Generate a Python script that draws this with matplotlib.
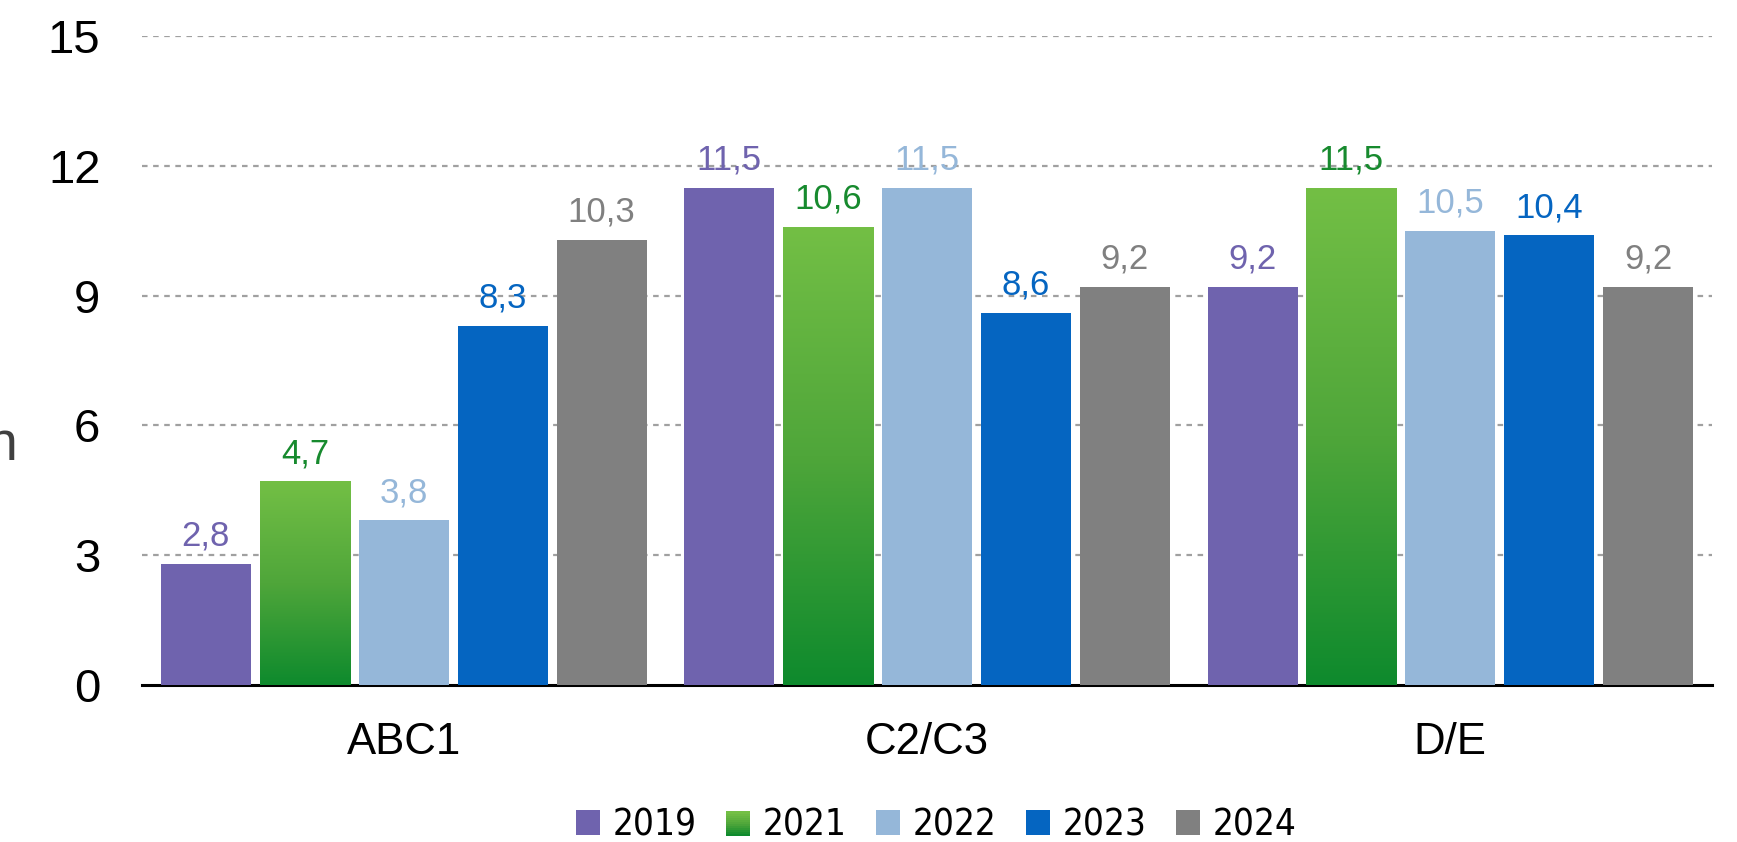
import matplotlib.pyplot as plt
import numpy as np
from matplotlib.colors import LinearSegmentedColormap
from matplotlib.patches import Rectangle
from matplotlib.legend_handler import HandlerBase

categories = ['ABC1', 'C2/C3', 'D/E']
years = ['2019', '2021', '2022', '2023', '2024']
v2019 = [2.8, 11.5, 9.2]
v2021 = [4.7, 10.6, 11.5]
v2022 = [3.8, 11.5, 10.5]
v2023 = [8.3, 8.6, 10.4]
v2024 = [10.3, 9.2, 9.2]
series = [v2019, v2021, v2022, v2023, v2024]

bar_colors = ['#6F63AE', None, '#95B7D9', '#0565C1', '#808080']
label_colors = ['#6F63AE', '#178A2E', '#95B7D9', '#0565C1', '#808080']
green_cmap = LinearSegmentedColormap.from_list('g', ['#0E8A2D', '#4FA63A', '#73BF45'])

plt.rcParams['font.family'] = ['Liberation Sans', 'DejaVu Sans']

fig = plt.figure(figsize=(17.37, 8.42), dpi=100)
ax = fig.add_axes([0.0818, 0.187, 0.9038, 0.7697])

x = np.arange(len(categories))
width = 0.172
step = 0.189
grad = np.linspace(0, 1, 256).reshape(-1, 1)

for i, vals in enumerate(series):
    pos = x + (i - 2) * step
    if bar_colors[i] is None:
        bars = ax.bar(pos, vals, width, facecolor='none', edgecolor='none', zorder=3)
        for b in bars:
            im = ax.imshow(grad, cmap=green_cmap, aspect='auto', origin='lower',
                           extent=[b.get_x(), b.get_x() + b.get_width(), 0, b.get_height()],
                           zorder=3)
            im.set_clip_path(b)
    else:
        ax.bar(pos, vals, width, color=bar_colors[i], zorder=3)
    for p, v in zip(pos, vals):
        ax.annotate(('%.1f' % v).replace('.', ','), (p, v), xytext=(0, 8),
                    textcoords='offset points', ha='center', va='bottom',
                    fontsize=25, color=label_colors[i])

ax.set_xlim(-0.5, 2.5)
ax.set_ylim(0, 15)
ax.set_yticks([0, 3, 6, 9, 12, 15])
ax.set_xticks(x)
ax.set_xticklabels(categories)
ax.tick_params(axis='y', length=0, labelsize=34, pad=30)
ax.tick_params(axis='x', length=0, labelsize=31.5, pad=27)
for t in [3, 6, 9, 12, 15]:
    ax.axhline(t, color='#A0A0A0', linestyle=(0, (2.5, 2.5)), linewidth=1.6, zorder=1)
for s in ['top', 'right', 'left']:
    ax.spines[s].set_visible(False)
ax.spines['bottom'].set_linewidth(2.2)
ax.spines['bottom'].set_color('black')


class GradHandler(HandlerBase):
    def create_artists(self, legend, orig, xd, yd, w, h, fs, trans):
        arts = []
        n = 12
        for k in range(n):
            c = green_cmap(k / (n - 1))
            r = Rectangle((xd, yd + h * k / n), w, h / n + 0.3, facecolor=c,
                          edgecolor='none', transform=trans)
            arts.append(r)
        return arts


handles = []
for i in range(5):
    if bar_colors[i] is None:
        handles.append(Rectangle((0, 0), 1, 1, facecolor='#4FA63A'))
    else:
        handles.append(Rectangle((0, 0), 1, 1, facecolor=bar_colors[i]))
hmap = {handles[1]: GradHandler()}
fig.legend(handles, years, loc='center', bbox_to_anchor=(0.539, 0.02), ncol=5,
           frameon=False, handler_map=hmap, handlelength=0.65, handleheight=0.65,
           handletextpad=0.35, columnspacing=0.8,
           prop={'family': 'DejaVu Sans', 'stretch': 'condensed', 'size': 26.5})

fig.text(-0.008, 0.47, 'n', fontsize=40, color='#404040', ha='left', va='center')

fig.savefig('out.png', dpi=100)
